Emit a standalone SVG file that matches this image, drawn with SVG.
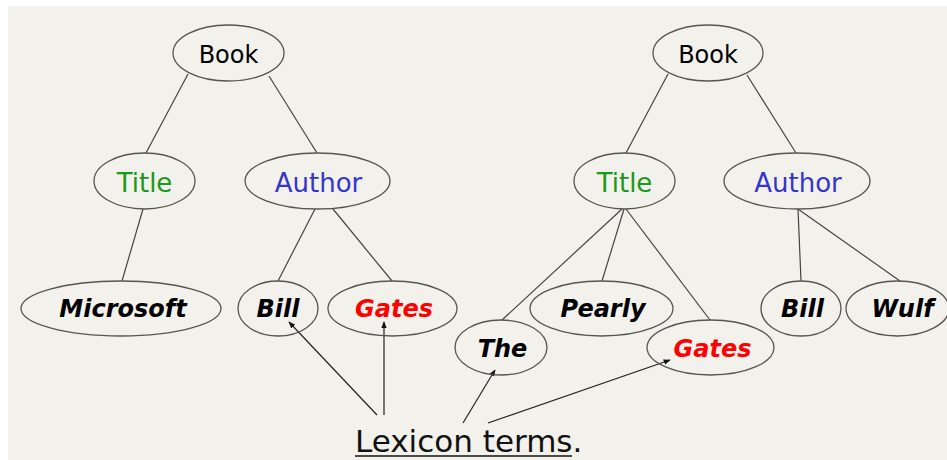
<svg xmlns="http://www.w3.org/2000/svg" width="947" height="460" viewBox="0 0 947 460">
  <style>
    .node ellipse { fill: none; stroke: #555; stroke-width: 1.3; }
    .label { font-family: "DejaVu Sans", "Liberation Sans", sans-serif; font-size: 24px; text-anchor: middle; }
    .big { font-size: 26px; }
    .term { font-family: "DejaVu Sans", "Liberation Sans", sans-serif; font-size: 24px; font-weight: bold; font-style: italic; text-anchor: middle; fill: #000; }
    .book { fill: #000; }
    .title { fill: #1a9a1a; }
    .author { fill: #3535cc; }
    .red { fill: #ff0000; }
    .edges line { stroke: #444; stroke-width: 1.2; }
    .arrows line { stroke: #222; stroke-width: 1.2; marker-end: url(#head); }
    .caption { font-family: "DejaVu Sans", "Liberation Sans", sans-serif; font-size: 31px; fill: #111; }
  </style>
  <defs>
    <marker id="head" viewBox="0 0 10 10" refX="9" refY="5" markerWidth="7" markerHeight="7" markerUnits="userSpaceOnUse" orient="auto">
      <path d="M0,1 L10,5 L0,9 z" fill="#111"/>
    </marker>
  </defs>

  <!-- page -->
  <rect x="0" y="0" width="947" height="460" fill="#ffffff"/>
  <rect x="8" y="6" width="939" height="454" fill="#f2f1eb"/>

  <!-- tree edges -->
  <g id="connectors">
    <g class="edges">
      <line x1="188" y1="74" x2="146" y2="153"/>
      <line x1="269" y1="76" x2="317" y2="153"/>
      <line x1="143" y1="209" x2="122" y2="281"/>
      <line x1="315" y1="209" x2="278" y2="281"/>
      <line x1="333" y1="209" x2="392" y2="281"/>

      <line x1="668" y1="74" x2="626" y2="153"/>
      <line x1="747" y1="75" x2="796" y2="153"/>
      <line x1="622" y1="209" x2="502" y2="320"/>
      <line x1="624" y1="209" x2="602" y2="281"/>
      <line x1="626" y1="209" x2="710" y2="320"/>
      <line x1="798" y1="209" x2="801" y2="281"/>
      <line x1="798" y1="209" x2="900" y2="281"/>
    </g>
    <g class="arrows">
      <line x1="377" y1="415" x2="289" y2="322"/>
      <line x1="384" y1="415" x2="384" y2="322"/>
      <line x1="463" y1="423" x2="495" y2="370"/>
      <line x1="488" y1="423" x2="670" y2="360"/>
    </g>
  </g>

  <!-- left tree -->
  <g id="book1" class="node">
    <ellipse cx="228.5" cy="53" rx="55.5" ry="28"/>
    <text class="label book" x="228.5" y="63">Book</text>
  </g>
  <g id="title1" class="node">
    <ellipse cx="144.5" cy="181" rx="50.5" ry="28"/>
    <text class="label big title" x="144.5" y="191.5">Title</text>
  </g>
  <g id="author1" class="node">
    <ellipse cx="317.5" cy="181" rx="72.5" ry="28"/>
    <text class="label big author" x="318.5" y="191.5">Author</text>
  </g>
  <g id="microsoft" class="node">
    <ellipse cx="121" cy="308.5" rx="100" ry="27.5"/>
    <text class="term" x="123" y="317">Microsoft</text>
  </g>
  <g id="bill1" class="node">
    <ellipse cx="278" cy="308.5" rx="40" ry="27.5"/>
    <text class="term" x="278" y="317">Bill</text>
  </g>
  <g id="gates1" class="node">
    <ellipse cx="392.5" cy="308.5" rx="64.5" ry="27.5"/>
    <text class="term red" x="394" y="317">Gates</text>
  </g>

  <!-- right tree -->
  <g id="book2" class="node">
    <ellipse cx="708" cy="53" rx="55" ry="28"/>
    <text class="label book" x="708" y="63">Book</text>
  </g>
  <g id="title2" class="node">
    <ellipse cx="624.5" cy="181" rx="50.5" ry="28"/>
    <text class="label big title" x="624.5" y="191.5">Title</text>
  </g>
  <g id="author2" class="node">
    <ellipse cx="797" cy="181" rx="73" ry="28"/>
    <text class="label big author" x="798" y="191.5">Author</text>
  </g>
  <g id="the" class="node">
    <ellipse cx="501" cy="347.5" rx="46" ry="27.5"/>
    <text class="term" x="502.5" y="356.5">The</text>
  </g>
  <g id="pearly" class="node">
    <ellipse cx="601.5" cy="308.5" rx="71.5" ry="27.5"/>
    <text class="term" x="603" y="317">Pearly</text>
  </g>
  <g id="gates2" class="node">
    <ellipse cx="710.5" cy="347.5" rx="63.5" ry="27.5"/>
    <text class="term red" x="712.5" y="356.5">Gates</text>
  </g>
  <g id="bill2" class="node">
    <ellipse cx="801" cy="308.5" rx="40" ry="27.5"/>
    <text class="term" x="802.5" y="317">Bill</text>
  </g>
  <g id="wulf" class="node">
    <ellipse cx="897.5" cy="308.5" rx="51.5" ry="27.5"/>
    <text class="term" x="902.5" y="317">Wulf</text>
  </g>

  <!-- caption -->
  <g id="lexicon">
    <text class="caption" x="355" y="452">Lexicon terms.</text>
    <line x1="355" y1="456" x2="572" y2="456" stroke="#111" stroke-width="1.5"/>
  </g>
</svg>
